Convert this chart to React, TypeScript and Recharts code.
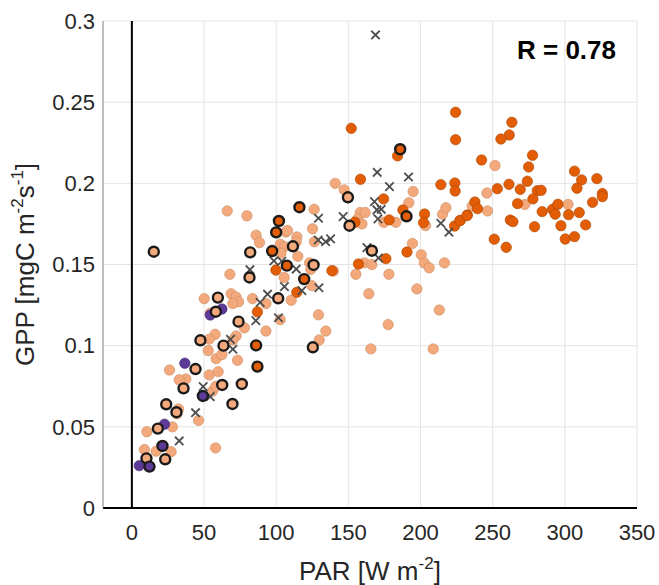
import { ScatterChart, Scatter, XAxis, YAxis, CartesianGrid, ReferenceLine, Customized } from "recharts";

type Pt = [number, number];

const xTicks = [0, 50, 100, 150, 200, 250, 300, 350];
const yTicks = [0, 0.05, 0.1, 0.15, 0.2, 0.25, 0.3];

// light orange, no edge
const lightPts: Pt[] = [
  [251.6, 0.211], [246, 0.194], [246.4, 0.183], [235.8, 0.186], [272.3, 0.187], [302.2, 0.187],
  [140.9, 0.2], [147.1, 0.196], [194.9, 0.195], [191.9, 0.188],
  [158.2, 0.182], [161.7, 0.182], [156.3, 0.178], [159.4, 0.175],
  [182.9, 0.176], [203.5, 0.174], [215.3, 0.181], [217.6, 0.185], [174.6, 0.176],
  [139.7, 0.146], [161.2, 0.151], [166.3, 0.15], [194.4, 0.163],
  [200.5, 0.156], [202.6, 0.151], [206, 0.148], [216.6, 0.151],
  [155.2, 0.144], [178.1, 0.144], [164.2, 0.132], [197.5, 0.135],
  [213, 0.122], [177.6, 0.113], [165.6, 0.098], [208.8, 0.098],
  [129.3, 0.119], [134.4, 0.109], [129.8, 0.1035],
  [126.3, 0.184], [79.7, 0.18], [66.1, 0.183],
  [106.7, 0.17], [107.8, 0.171], [125.2, 0.172],
  [86.1, 0.168], [88.4, 0.1635], [114.3, 0.167], [113.9, 0.164],
  [102.8, 0.1625], [105.7, 0.161], [126.5, 0.164],
  [115, 0.155], [103.3, 0.157], [123.1, 0.151], [124, 0.147],
  [105.5, 0.142], [67.9, 0.144],
  [68.8, 0.132], [72.1, 0.13], [73.9, 0.127], [70, 0.126],
  [83.6, 0.129], [92.9, 0.126], [110.4, 0.128], [124.7, 0.137],
  [102.8, 0.116], [78, 0.111], [72.3, 0.106], [70, 0.1035], [92.9, 0.109],
  [50.1, 0.129], [54.3, 0.12],
  [57.7, 0.107], [53.6, 0.104], [52.9, 0.097], [58.4, 0.092], [62.4, 0.0945], [73.2, 0.091],
  [26.1, 0.085], [53.6, 0.082], [59.8, 0.084], [37.4, 0.0795], [32.8, 0.079],
  [55.9, 0.072], [58.2, 0.075],
  [32.3, 0.061], [31.2, 0.058], [46.2, 0.054], [10.4, 0.047], [28.1, 0.05],
  [58, 0.037], [8.7, 0.036], [16.8, 0.035], [27.2, 0.0347],
];

// dark orange, no edge
const darkPts: Pt[] = [
  [263.3, 0.2376], [261.5, 0.2298], [255.7, 0.2273], [242.3, 0.2144], [277.6, 0.2173], [274.9, 0.2101],
  [274, 0.2013], [261.3, 0.1994], [253.2, 0.1967], [269.1, 0.1963], [280.9, 0.1955], [283.6, 0.1957],
  [277.9, 0.1904], [267.2, 0.1875], [237.7, 0.1885], [239.5, 0.1844], [232.4, 0.1805], [227.5, 0.1772],
  [284.3, 0.1826], [291.5, 0.184], [295.2, 0.1871], [293.3, 0.181], [302.6, 0.1807], [310, 0.182],
  [297.3, 0.1739], [279, 0.1733], [262.2, 0.1774], [264, 0.1764], [251.1, 0.1656], [259.4, 0.1606],
  [300.3, 0.1657], [306.7, 0.1672], [314.4, 0.1744], [306.7, 0.2075], [311.6, 0.2021], [308.4, 0.197],
  [322.2, 0.2029], [326, 0.1937], [326, 0.1918], [319.2, 0.1883],
  [224.3, 0.2438], [224.3, 0.2269], [152, 0.2339], [184.1, 0.2169], [158.4, 0.2025],
  [214.1, 0.1992], [223.8, 0.2002], [224, 0.1953], [174.4, 0.1904], [187.8, 0.1836],
  [178.3, 0.1775], [202.8, 0.1811], [202.1, 0.1758], [223.6, 0.1737], [227.3, 0.177], [232.2, 0.1801],
  [154.5, 0.176], [176, 0.1536], [157, 0.1503], [138.6, 0.1462], [190.6, 0.1577],
  [99.8, 0.1466], [87, 0.1208], [114.3, 0.1329],
];

// purple, no edge
const purplePts: Pt[] = [
  [62.4, 0.1226], [54.3, 0.1189], [36.7, 0.0892], [22.6, 0.0516], [5.1, 0.0261],
];

// grey crosses
const crossPts: Pt[] = [
  [168.8, 0.2914], [170, 0.2068], [191.7, 0.2039], [178.5, 0.198], [168.1, 0.1887], [172.8, 0.184],
  [169.8, 0.1836], [170.5, 0.1781], [146.4, 0.1795], [129.3, 0.1785], [214.1, 0.1754], [219.7, 0.1699],
  [129.1, 0.1651], [134.3, 0.164], [137.7, 0.1658], [162.9, 0.1604], [170.9, 0.154],
  [98.4, 0.1522], [103.9, 0.152], [113.9, 0.1472], [81.8, 0.1468],
  [94, 0.1317], [88.9, 0.1267], [105.7, 0.1364], [117.8, 0.1339], [129.6, 0.1357],
  [101.6, 0.1172], [85.9, 0.1154], [68.3, 0.1039], [70, 0.0978],
  [49.4, 0.0748], [54.3, 0.0686], [44.1, 0.0587], [32.8, 0.0413],
];

// black-edged circles
const lightRing: Pt[] = [
  [149.7, 0.1914], [150.8, 0.1739], [166.3, 0.1585], [111.6, 0.1612], [82, 0.1575], [125.9, 0.1497],
  [81.5, 0.142], [101.4, 0.1292], [73.9, 0.1148], [125.4, 0.099], [59.6, 0.1296], [58.2, 0.1209],
  [47.5, 0.1033], [63.5, 0.1], [44.1, 0.0856], [35.8, 0.0737], [62.6, 0.0758], [69.7, 0.0641],
  [76.2, 0.0764], [23.8, 0.0639], [30.9, 0.059], [18, 0.0489], [23.1, 0.03], [10.1, 0.0306], [15.2, 0.1579],
];
const darkRing: Pt[] = [
  [185.9, 0.221], [190.3, 0.1797], [116.1, 0.1853], [101.9, 0.1768], [100, 0.1698], [97.2, 0.1583],
  [107.4, 0.1493], [119.4, 0.141], [86.1, 0.1002], [87, 0.0871],
];
const purpleRing: Pt[] = [
  [49.2, 0.069], [21.2, 0.0382], [12.2, 0.0255],
];

const FONT = "'Liberation Sans', Arial, Helvetica, sans-serif";
const W = 659;
const H = 585;
const PL = 103;
const PT = 21;
const PR = 637;
const PB = 508;

const toData = (a: Pt[]) => a.map(([x, y]) => ({ x, y }));

const dot = (fill: string, stroke: string, sw: number, r: number) => (p: any) =>
  <circle cx={p.cx} cy={p.cy} r={r} fill={fill} stroke={stroke} strokeWidth={sw} />;

const cross = (p: any) => {
  const s = 4.2;
  return (
    <g stroke="#4d4d4d" strokeWidth={1.8}>
      <line x1={p.cx - s} y1={p.cy - s} x2={p.cx + s} y2={p.cy + s} />
      <line x1={p.cx - s} y1={p.cy + s} x2={p.cx + s} y2={p.cy - s} />
    </g>
  );
};

function Texts() {
  const cx = (PL + PR) / 2;
  const cy = (PT + PB) / 2;
  return (
    <g fontFamily={FONT}>
      <text x={cx} y={580} textAnchor="middle" fontSize={26} fill="#262626">
        PAR [W m<tspan dy={-11} fontSize={17}>-2</tspan><tspan dy={11}>]</tspan>
      </text>
      <text x={34} y={cy} textAnchor="middle" fontSize={26} fill="#262626" transform={`rotate(-90 34 ${cy})`}>
        GPP [mgC m<tspan dy={-11} fontSize={17}>-2</tspan><tspan dy={11}>s</tspan>
        <tspan dy={-11} fontSize={17}>-1</tspan><tspan dy={11}>]</tspan>
      </text>
      <text x={616} y={59} textAnchor="end" fontSize={26} fontWeight="bold" fill="#000">R = 0.78</text>
    </g>
  );
}

export default function App() {
  const tick = { fill: "#262626", fontSize: 22, fontFamily: FONT };
  return (
    <div style={{ position: "absolute", left: 0, top: 0, width: W, height: H, background: "#fff" }}>
      <ScatterChart width={W} height={H} margin={{ top: PT, right: W - PR, bottom: H - PB - 30, left: PL - 60 }}>
        <CartesianGrid stroke="#e4e4e4" />
        <XAxis
          type="number"
          dataKey="x"
          domain={[-20, 350]}
          ticks={xTicks}
          interval={0}
          allowDataOverflow
          tickSize={0}
          tickMargin={16}
          tick={tick}
          axisLine={{ stroke: "#000", strokeWidth: 2 }}
        />
        <YAxis
          type="number"
          dataKey="y"
          domain={[0, 0.3]}
          ticks={yTicks}
          interval={0}
          allowDataOverflow
          width={60}
          tickSize={0}
          tickMargin={8}
          tick={tick}
          axisLine={{ stroke: "#8c8c8c", strokeWidth: 1 }}
        />
        <ReferenceLine x={0} stroke="#000" strokeWidth={2} />
        <Scatter data={toData(lightPts)} shape={dot("#F3A97C", "#C98B62", 0.6, 5.2)} isAnimationActive={false} />
        <Scatter data={toData(darkPts)} shape={dot("#E35D06", "#A84500", 0.6, 5.2)} isAnimationActive={false} />
        <Scatter data={toData(purplePts)} shape={dot("#5E3A98", "#3f2570", 0.6, 5.2)} isAnimationActive={false} />
        <Scatter data={toData(crossPts)} shape={cross} isAnimationActive={false} />
        <Scatter data={toData(lightRing)} shape={dot("#F3A97C", "#1a1a1a", 2.4, 5)} isAnimationActive={false} />
        <Scatter data={toData(darkRing)} shape={dot("#E35D06", "#1a1a1a", 2.4, 5)} isAnimationActive={false} />
        <Scatter data={toData(purpleRing)} shape={dot("#5E3A98", "#1a1a1a", 2.4, 5)} isAnimationActive={false} />
        <Customized component={Texts} />
      </ScatterChart>
    </div>
  );
}
